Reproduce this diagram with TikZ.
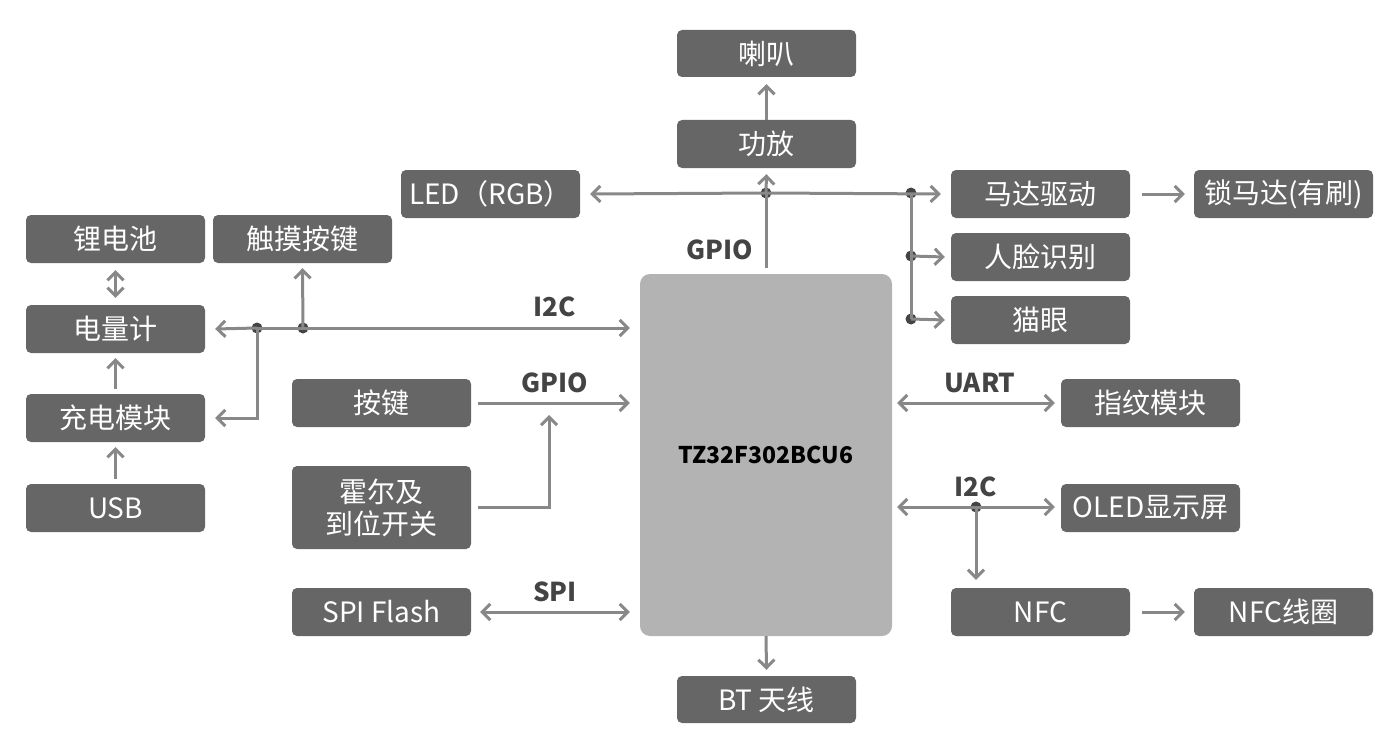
\documentclass[tikz,border=0pt]{standalone}
\usepackage{fontspec}
\setmainfont{Noto Sans CJK SC}
\usetikzlibrary{arrows.meta}
\definecolor{bx}{HTML}{666666}
\definecolor{ln}{HTML}{888888}
\definecolor{mc}{HTML}{B3B3B3}
\definecolor{dt}{HTML}{444444}
\begin{document}
\begin{tikzpicture}[x=1pt,y=-1pt,
 box/.style={fill=bx,rounded corners=5pt,text=white,font=\fontsize{28}{32}\selectfont,align=center,inner sep=0pt},
 ln/.style={draw=ln,line width=3pt,-{Straight Barb[length=8pt,width=16pt,line width=3pt]}},
 bi/.style={ln,{Straight Barb[length=8pt,width=16pt,line width=3pt]}-{Straight Barb[length=8pt,width=16pt,line width=3pt]}},
 dot/.style={circle,fill=dt,inner sep=0pt,minimum size=11pt},
 lab/.style={text=dt,font=\bfseries\fontsize{26}{29}\selectfont}]
\useasboundingbox (0,0) rectangle (1400,749);
\def\bx#1#2#3#4#5#6{\node[box,minimum width=#4-#2,minimum height=#5-#3] (#1) at ({(#2+#4)/2},{(#3+#5)/2}) {#6};}
\bx{lb}{677}{30}{856}{77}{喇叭}
\bx{gf}{677}{120}{856}{168}{功放}
\bx{led}{401}{170}{580}{218}{LED（RGB）}
\bx{md}{951}{170}{1130}{218}{马达驱动}
\bx{sm}{1194}{170}{1373}{218}{锁马达(有刷)}
\bx{rl}{951}{233}{1130}{281}{人脸识别}
\bx{my}{951}{296}{1130}{344}{猫眼}
\bx{lc}{26}{215}{205}{263}{锂电池}
\bx{cm}{213}{215}{392}{263}{触摸按键}
\bx{dl}{26}{305}{205}{353}{电量计}
\bx{cd}{26}{394}{205}{442}{充电模块}
\bx{usb}{26}{484}{205}{532}{USB}
\bx{aj}{292}{379}{471}{427}{按键}
\bx{he}{292}{466}{471}{549}{霍尔及\\到位开关}
\bx{spi}{292}{588}{471}{636}{SPI Flash}
\bx{zw}{1061}{379}{1240}{427}{指纹模块}
\bx{ol}{1061}{484}{1240}{532}{OLED显示屏}
\bx{nfc}{951}{588}{1130}{636}{NFC}
\bx{xq}{1194}{588}{1373}{636}{NFC线圈}
\bx{bt}{677}{676}{856}{723}{BT 天线}
\node[fill=mc,rounded corners=10pt,minimum width=252pt,minimum height=362pt,inner sep=0pt] (mcu) at (766,455) {};
\node[text=black,font=\bfseries\fontsize{23}{26}\selectfont] at (mcu) {TZ32F302BCU6};
% top GPIO
\node[dot] (d1) at (766,193) {};
\node[dot] (d2) at (911,193) {};
\node[dot] (d3) at (911,256) {};
\node[dot] (d4) at (911,319) {};
\coordinate (g0) at (766,268);
\draw[draw=ln,line width=3pt] (g0) -- (d1.center);
\draw[ln] (d1.center) -- ([yshift=-6pt]gf.south);
\draw[ln] (d1.center) -- ([xshift=10pt]led.east);
\draw[ln] (d1.center) -- ([xshift=-10pt]md.west);
\draw[draw=ln,line width=3pt] (d2.center) -- (d4.center);
\draw[ln] (d3.center) -- ([xshift=-6pt]rl.west);
\draw[ln] (d4.center) -- ([xshift=-6pt]my.west);
\draw[ln] (gf.north) -- ([yshift=-7pt]lb.south);
\draw[ln] ([xshift=12pt]md.east) -- ([xshift=-9pt]sm.west);
\node[lab] at (720,250) {GPIO};
% left I2C
\node[dot] (e1) at (257,328) {};
\node[dot] (e2) at (303,328) {};
\draw[ln] (e1.center) -- ([xshift=10pt]dl.east);
\draw[ln] (e1.center) -- ([xshift=-10pt]mcu.west|-e1);
\draw[ln] (e2.center) -- ([yshift=-5pt]cm.south);
\draw[ln] (e1.center) |- ([xshift=10pt]cd.east);
\node[lab] at (555,307) {I2C};
\draw[bi] ([yshift=-7pt]lc.south) -- ([yshift=7pt]dl.north);
\draw[ln] ([yshift=5pt]cd.north) -- ([yshift=-5pt]dl.south);
\draw[ln] ([yshift=5pt]usb.north) -- ([yshift=-5pt]cd.south);
% GPIO keys
\draw[ln] ([xshift=7pt]aj.east) -- ([xshift=-10pt]mcu.west|-aj);
\draw[ln] ([xshift=7pt]he.east) -| ([yshift=-10pt]549,405);
\node[lab] at (555,383) {GPIO};
\draw[bi] ([xshift=9pt]spi.east) -- ([xshift=-10pt]mcu.west|-spi);
\node[lab] at (555,592) {SPI};
% right
\draw[bi] ([xshift=5pt]mcu.east|-zw) -- ([xshift=-6pt]zw.west);
\node[lab] at (980,383) {UART};
\node[dot] (f1) at (976,507) {};
\draw[bi] ([xshift=5pt]mcu.east|-f1) -- ([xshift=-6pt]ol.west|-f1);
\draw[ln] (f1.center) -- ([yshift=8pt]nfc.north-|f1);
\node[lab] at (976,487) {I2C};
\draw[ln] ([xshift=12pt]nfc.east) -- ([xshift=-9pt]xq.west);
\draw[ln] (mcu.south) -- ([yshift=6pt]bt.north);
\end{tikzpicture}
\end{document}
